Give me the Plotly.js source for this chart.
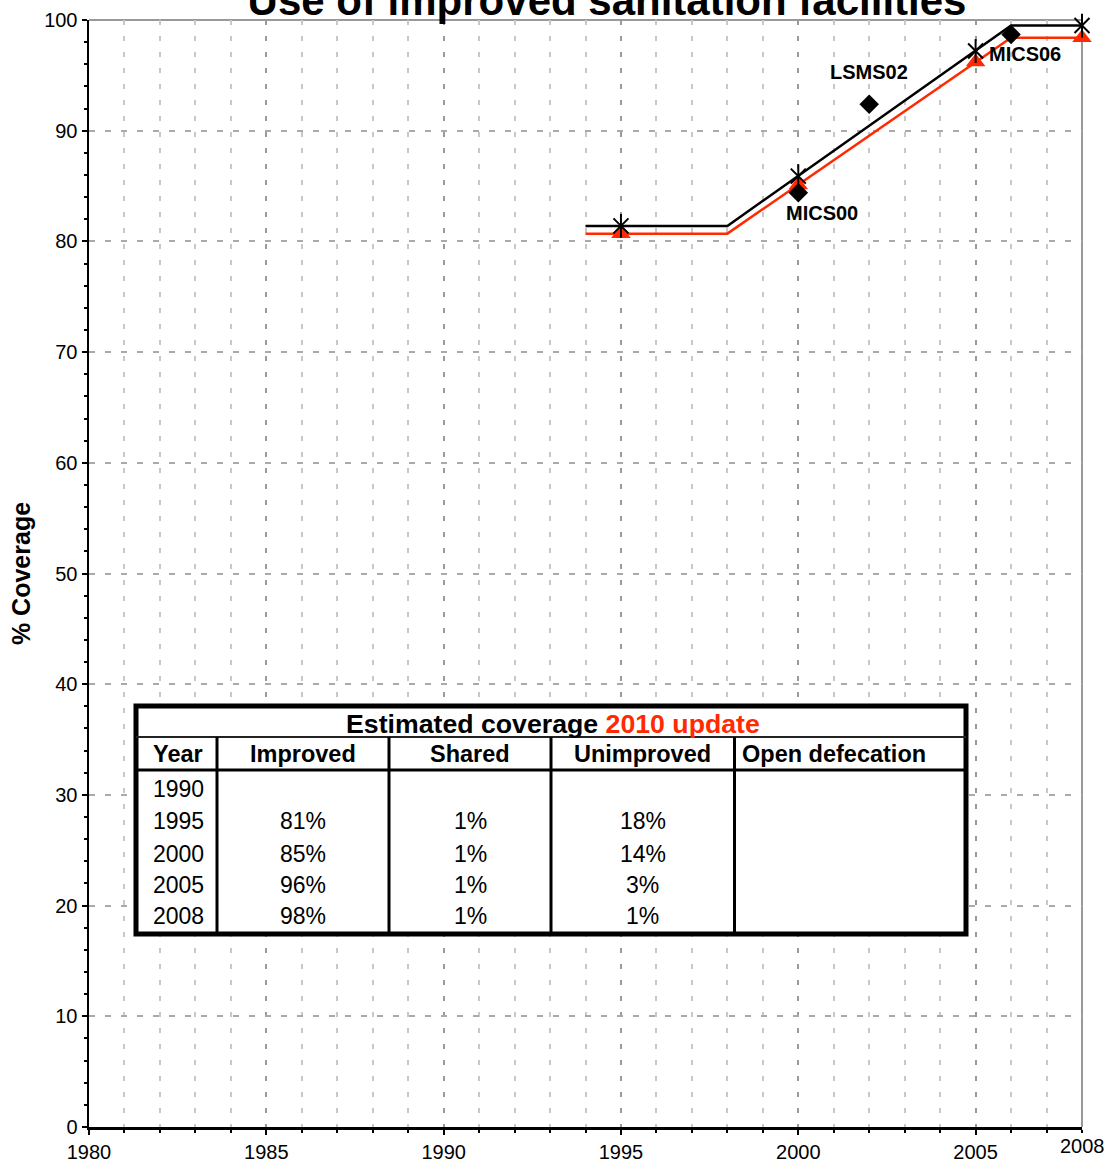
<!DOCTYPE html>
<html>
<head>
<meta charset="utf-8">
<script src="https://cdn.plot.ly/plotly-3.0.1.min.js"></script>
<style>
  html, body { margin: 0; padding: 0; background: #fff; }
  #chart { width: 1117px; height: 1168px; }
</style>
</head>
<body>
<div id="chart"></div>
<script>
// ---------- DATA ----------
var chartTitle = 'Use of improved sanitation facilities';
var yAxisTitle = '% Coverage';

// trend lines (piecewise)
var lineYears = [1994, 1998, 2006, 2008];
var blackLineValues = [81.4, 81.4, 99.5, 99.5];
var redLineValues = [80.7, 80.7, 98.4, 98.4];

// estimate markers
var markerYears = [1995, 2000, 2005, 2008];
var blackMarkerValues = [81.4, 85.9, 97.2, 99.5];
var redMarkerValues = [80.7, 85.1, 96.2, 98.4];

// survey points
var surveyYears = [2000, 2002, 2006];
var surveyValues = [84.4, 92.4, 98.7];
var surveyLabels = ['MICS00', 'LSMS02', 'MICS06'];

// axis ticks
var xTickVals = [1980, 1985, 1990, 1995, 2000, 2005];
var xEndLabel = 2008;
var yTickVals = [0, 10, 20, 30, 40, 50, 60, 70, 80, 90, 100];

// table
var tableTitleBlack = 'Estimated coverage ';
var tableTitleRed = '2010 update';
var tableColumns = ['Year', 'Improved', 'Shared', 'Unimproved', 'Open defecation'];
var tableYears = ['1990', '1995', '2000', '2005', '2008'];
var tableImproved = ['', '81%', '85%', '96%', '98%'];
var tableShared = ['', '1%', '1%', '1%', '1%'];
var tableUnimproved = ['', '18%', '14%', '3%', '1%'];
var tableOpen = ['', '', '', '', ''];

// ---------- LAYOUT GEOMETRY ----------
var W = 1117, H = 1168;
var L = 89, R = 1082, T = 20, B = 1127;
function px(x) { return (x - L) / (R - L); }
function py(y) { return (B - y) / (B - T); }

var RED = '#ff2a00';
var FONT = 'Liberation Sans, Arial, sans-serif';

var traces = [
  { x: lineYears, y: blackLineValues, mode: 'lines', line: { color: '#000', width: 2.5 }, hoverinfo: 'skip', showlegend: false },
  { x: lineYears, y: redLineValues, mode: 'lines', line: { color: RED, width: 2.5 }, hoverinfo: 'skip', showlegend: false },
  { x: markerYears, y: redMarkerValues, mode: 'markers', cliponaxis: false, marker: { symbol: 'triangle-up', size: 17, color: RED }, showlegend: false },
  { x: markerYears, y: blackMarkerValues, mode: 'markers', cliponaxis: false, marker: { symbol: 'x-thin-open', size: 15, color: '#000', line: { color: '#000', width: 2 } }, showlegend: false },
  { x: markerYears, y: blackMarkerValues, mode: 'markers', cliponaxis: false, marker: { symbol: 'line-ns-open', size: 17, color: '#000', line: { color: '#000', width: 2 } }, showlegend: false },
  { x: surveyYears, y: surveyValues, mode: 'markers', cliponaxis: false, marker: { symbol: 'diamond', size: 15, color: '#000' }, showlegend: false }
];

var annotations = [];
var shapes = [];

// survey labels
var labelShift = [[24, -20], [0, 32], [14, -20]];
for (var i = 0; i < surveyYears.length; i++) {
  annotations.push({
    x: surveyYears[i], y: surveyValues[i], xref: 'x', yref: 'y',
    text: '<b>' + surveyLabels[i] + '</b>', showarrow: false,
    xshift: labelShift[i][0], yshift: labelShift[i][1],
    font: { family: FONT, size: 20, color: '#000' }
  });
}

// 2008 end label on x axis
annotations.push({
  x: xEndLabel, y: 0, xref: 'x', yref: 'paper', text: String(xEndLabel),
  showarrow: false, yanchor: 'middle', yshift: -19,
  font: { family: FONT, size: 20, color: '#000' }
});

// top & right grey borders
shapes.push({ type: 'line', xref: 'paper', yref: 'paper', x0: 0, x1: 1, y0: 1, y1: 1, line: { color: '#999', width: 2 }, layer: 'below' });
shapes.push({ type: 'line', xref: 'paper', yref: 'paper', x0: 1, x1: 1, y0: 0, y1: 1, line: { color: '#999', width: 2 }, layer: 'below' });

// ---------- TABLE ----------
var tX = [136, 217, 389, 551, 734.5, 966];
var tTop = 706, tRow1 = 737, tRow2 = 770, tBottom = 934;
var rowCenters = [788.5, 821, 853.5, 885, 916.5];

shapes.push({ type: 'rect', xref: 'paper', yref: 'paper', x0: px(tX[0]), x1: px(tX[5]), y0: py(tBottom), y1: py(tTop), fillcolor: '#fff', line: { color: '#000', width: 5 }, layer: 'above' });
shapes.push({ type: 'line', xref: 'paper', yref: 'paper', x0: px(tX[0]), x1: px(tX[5]), y0: py(tRow1), y1: py(tRow1), line: { color: '#222', width: 2 }, layer: 'above' });
shapes.push({ type: 'line', xref: 'paper', yref: 'paper', x0: px(tX[0]), x1: px(tX[5]), y0: py(tRow2), y1: py(tRow2), line: { color: '#000', width: 3 }, layer: 'above' });
for (var c = 1; c < 5; c++) {
  shapes.push({ type: 'line', xref: 'paper', yref: 'paper', x0: px(tX[c]), x1: px(tX[c]), y0: py(tRow1), y1: py(tBottom), line: { color: '#000', width: 3 }, layer: 'above' });
}

function cellText(text, xpix, ypix, anchor, bold, size, color) {
  annotations.push({
    x: px(xpix), y: py(ypix), xref: 'paper', yref: 'paper',
    text: bold ? '<b>' + text + '</b>' : text, showarrow: false,
    xanchor: anchor, yanchor: 'middle',
    font: { family: FONT, size: size, color: color || '#000' }
  });
}

cellText(tableTitleBlack + '<span style="color:' + RED + '">' + tableTitleRed + '</span>', 552.5, 723.5, 'center', true, 26.7);

var colCenters = [151, (tX[1] + tX[2]) / 2, (tX[2] + tX[3]) / 2, (tX[3] + tX[4]) / 2, 740];
var colAnchors = ['left', 'center', 'center', 'center', 'left'];
for (var c2 = 0; c2 < tableColumns.length; c2++) {
  cellText(tableColumns[c2], colCenters[c2], 754, colAnchors[c2], true, 23.5);
}
var tableCols = [tableYears, tableImproved, tableShared, tableUnimproved, tableOpen];
for (var r = 0; r < tableYears.length; r++) {
  for (var c3 = 0; c3 < tableCols.length; c3++) {
    if (tableCols[c3][r] !== '') {
      cellText(tableCols[c3][r], colCenters[c3], rowCenters[r], colAnchors[c3], false, 23);
    }
  }
}

var layout = {
  width: W, height: H,
  margin: { l: L, r: W - R, t: T, b: H - B, pad: 0 },
  paper_bgcolor: '#fff', plot_bgcolor: '#fff',
  showlegend: false,
  title: {
    text: '<b>' + chartTitle + '</b>',
    font: { family: FONT, size: 42, color: '#000' },
    xref: 'paper', x: px(607), xanchor: 'center',
    yref: 'container', y: 1, yanchor: 'middle'
  },
  xaxis: {
    range: [1980, 2008], tickvals: xTickVals, ticktext: xTickVals.map(String),
    showline: true, linecolor: '#000', linewidth: 3,
    ticks: 'outside', ticklen: 5, tickwidth: 2, tickcolor: '#000',
    tickfont: { family: FONT, size: 20, color: '#000' },
    showgrid: true, gridcolor: '#9a9a9a', gridwidth: 2, griddash: '5px,11px',
    minor: { dtick: 1, ticks: 'outside', ticklen: 3, tickwidth: 2, tickcolor: '#000', showgrid: true, gridcolor: '#c8c8c8', gridwidth: 2, griddash: '5px,11px' },
    zeroline: false, fixedrange: true
  },
  yaxis: {
    range: [0, 100], tickvals: yTickVals,
    showline: true, linecolor: '#000', linewidth: 2.5,
    ticks: 'outside', ticklen: 5, tickwidth: 2, tickcolor: '#000',
    tickfont: { family: FONT, size: 20, color: '#000' },
    showgrid: true, gridcolor: '#aaaaaa', gridwidth: 2, griddash: '6px,10px',
    minor: { dtick: 2, ticks: 'outside', ticklen: 3, tickwidth: 2, tickcolor: '#000', showgrid: false },
    zeroline: false, fixedrange: true,
    title: { text: '<b>' + yAxisTitle + '</b>', font: { family: FONT, size: 25, color: '#000' }, standoff: 7 }
  },
  shapes: shapes,
  annotations: annotations
};

Plotly.newPlot('chart', traces, layout, { displayModeBar: false, staticPlot: true });
</script>
</body>
</html>
